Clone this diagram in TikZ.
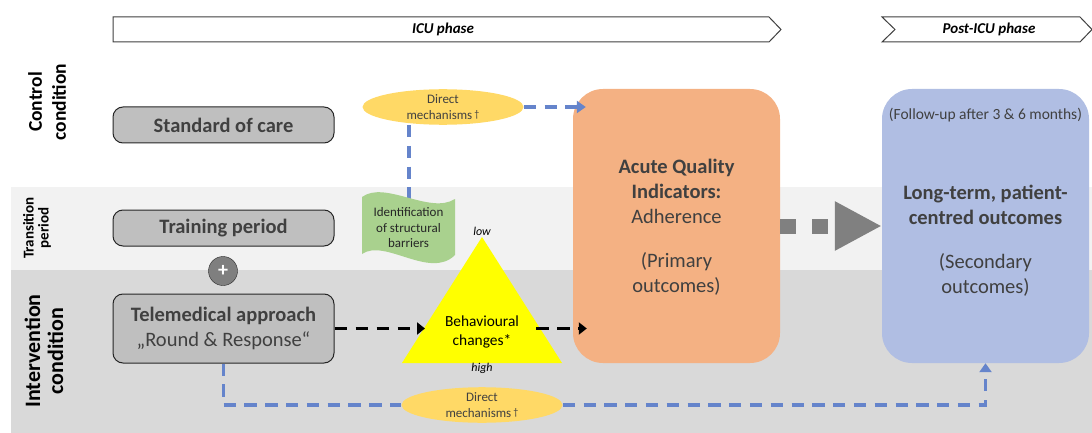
\documentclass[tikz,border=0pt]{standalone}
\usepackage{fontspec}
\setmainfont{Carlito}
\usetikzlibrary{arrows.meta,calc,shapes.geometric}
\definecolor{transbg}{HTML}{F2F2F2}
\definecolor{intbg}{HTML}{D9D9D9}
\definecolor{boxfill}{HTML}{BFBFBF}
\definecolor{boxline}{HTML}{262626}
\definecolor{plusfill}{HTML}{7F7F7F}
\definecolor{mechfill}{HTML}{FFD966}
\definecolor{barrierfill}{HTML}{A9D18E}
\definecolor{trianglefill}{HTML}{FFFF00}
\definecolor{primaryfill}{HTML}{F4B183}
\definecolor{secondaryfill}{HTML}{B0BEE3}
\definecolor{linkblue}{HTML}{6584CB}
\definecolor{arrowgray}{HTML}{808080}
\definecolor{txtgray}{HTML}{404040}
\newcommand{\dagmark}{\,{\fontsize{10}{10}\selectfont\raisebox{1.5pt}{†}}}
\begin{document}
\begin{tikzpicture}[x=1pt,y=-1pt,
	box/.style={draw=boxline, fill=boxfill, rounded corners=10pt, line width=1pt, minimum width=221pt, align=center, text=txtgray, font=\fontsize{20.5}{25}\selectfont},
	mech/.style={ellipse, fill=mechfill, minimum width=161pt, minimum height=34pt, inner sep=0pt, align=center, text=txtgray, font=\fontsize{13}{16}\selectfont},
	outcome/.style={rounded corners=30pt, minimum width=207pt, minimum height=274pt},
	bigtext/.style={align=center, text=txtgray, font=\fontsize{20.5}{25}\selectfont},
	bluedash/.style={draw=linkblue, line width=3.3pt, dash pattern=on 12.3pt off 8.5pt},
	blackdash/.style={draw=black, line width=3.3pt, dash pattern=on 12.5pt off 8.5pt},
	phase/.style={draw=txtgray, fill=white, line width=1pt},
	sidelabel/.style={rotate=90, align=center, font=\bfseries\fontsize{19.5}{24}\selectfont}]
	\useasboundingbox (0,0) rectangle (1092,433);
	\fill[transbg] (11,187) rectangle (1092,270);
	\fill[intbg] (11,270) rectangle (1092,433);
	\draw[phase] (113,17) -- (769,17) -- (781,29.5) -- (769,42) -- (113,42) -- cycle;
	\node[font=\bfseries\itshape\fontsize{15}{18}\selectfont] (icu) at (443,29.5) {ICU phase};
	\draw[phase] (882,17) -- (1080,17) -- (1092,29.5) -- (1080,42) -- (882,42) -- (895,29.5) -- cycle;
	\node[font=\bfseries\itshape\fontsize{15}{18}\selectfont] (posticu) at (989,29.5) {Post-ICU phase};
	\node[sidelabel] (control) at (47,102) {Control\\condition};
	\node[sidelabel, font=\bfseries\fontsize{15}{15}\selectfont] (transition) at (37,228) {Transition\\period};
	\node[sidelabel, font=\bfseries\fontsize{22}{23}\selectfont] (intervention) at (44,351) {Intervention\\condition};
	\node[box, minimum height=36pt] (standard) at (223.5,125) {\textbf{Standard of care}};
	\node[box, minimum height=36pt] (training) at (223.5,228) {\textbf{Training period}};
	\node[circle, draw=boxline, fill=plusfill, minimum size=29pt, inner sep=0pt, text=white, font=\bfseries\fontsize{20}{20}\selectfont] (plus) at (223,271) {+};
	\node[box, minimum height=69pt] (telemed) at (223.5,328.5) {\textbf{Telemedical approach}\\„Round \& Response“};
	\node[outcome, fill=primaryfill] (primary) at (676.5,226) {};
	\node[bigtext] (primarytext) at (676.5,227) {\textbf{Acute Quality}\\\textbf{Indicators:}\\Adherence\\[19pt](Primary\\outcomes)};
	\node[outcome, fill=secondaryfill] (secondary) at (985.5,226) {};
	\node[text=txtgray, font=\fontsize{15.5}{18}\selectfont] (followup) at (985.5,115) {(Follow-up after 3 \& 6 months)};
	\node[bigtext] (secondarytext) at (985.5,241) {\textbf{Long-term, patient-}\\\textbf{centred outcomes}\\[19pt](Secondary\\outcomes)};
	\draw[draw=arrowgray, line width=15pt, dash pattern=on 16pt off 16pt, -{Triangle[length=47pt,width=46pt]}] (primary.east) -- (secondary.west);
	\node[mech] (topmech) at (443,107) {Direct\\mechanisms\dagmark};
	\coordinate (barriertop) at (409,199);
	\draw[bluedash] (topmech.south -| barriertop) -- (barriertop);
	\draw[bluedash, -{Triangle[length=9pt,width=12pt]}] (topmech.east) -- ($(primary.west |- topmech.east)+(13,0)$);
	\fill[barrierfill] (362,197) .. controls (385,180) and (430,215) .. (455,199) -- (455,255) .. controls (430,280) and (385,238) .. (362,254) -- cycle;
	\node[align=center, text=boxline, font=\fontsize{13}{15.5}\selectfont] (barrier) at (408.5,228) {Identification\\of structural\\barriers};
	\fill[trianglefill] (482,237) -- (562,363) -- (402,363) -- cycle;
	\node[align=center, font=\fontsize{15.4}{19}\selectfont] (behaviour) at (482,332) {Behavioural\\changes*};
	\node[font=\itshape\fontsize{12}{14}\selectfont] (low) at (482,231.5) {low};
	\node[font=\itshape\fontsize{12}{14}\selectfont] (high) at (482,368) {high};
	\coordinate (behaviourin) at (425,328.5);
	\coordinate (behaviourout) at (536,328.5);
	\draw[blackdash, -{Triangle[length=8pt,width=12pt]}] (telemed.east) -- (behaviourin);
	\draw[blackdash, -{Triangle[length=8pt,width=12pt]}] (behaviourout) -- ($(primary.west |- behaviourout)+(14,0)$);
	\node[mech] (botmech) at (482,405) {Direct\\mechanisms\dagmark};
	\draw[bluedash] (telemed.south) |- (botmech.west);
	\draw[bluedash, -{Triangle[length=9pt,width=12pt]}] (botmech.east) -| (secondary.south);
\end{tikzpicture}
\end{document}
